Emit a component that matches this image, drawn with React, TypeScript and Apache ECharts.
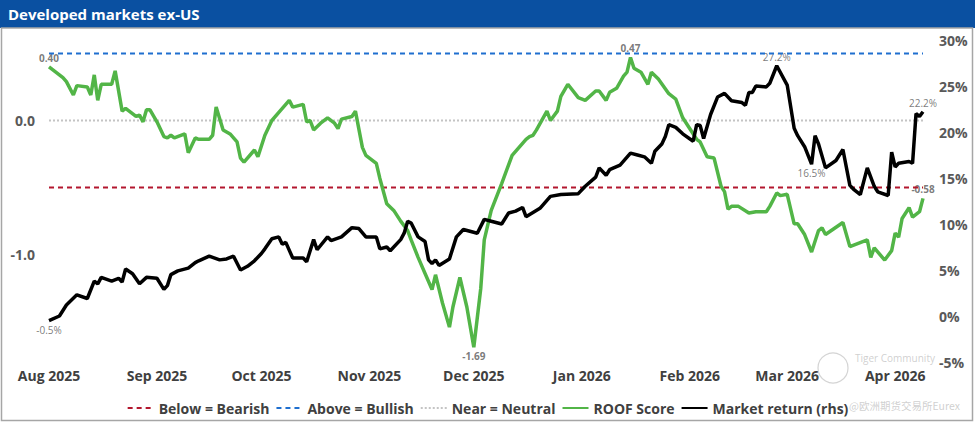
import React, { useEffect, useRef } from "react";
import * as echarts from "echarts";

// ---- Data ----
const START_DATE = "2025-08-01";
const END_DAY = 251; // days after START_DATE (2026-04-09)

const monthTicks = [
  "2025-08-01", "2025-09-01", "2025-10-01", "2025-11-01", "2025-12-01",
  "2026-01-01", "2026-02-01", "2026-03-01", "2026-04-01",
];
const monthNames = ["Jan", "Feb", "Mar", "Apr", "May", "Jun", "Jul", "Aug", "Sep", "Oct", "Nov", "Dec"];

// ROOF score (left axis): day offsets from START_DATE and values
const roofDays = [
  0, 4, 5, 7, 8, 11, 12, 13, 14, 15,
  18, 19, 21, 22, 25, 26, 27, 28, 29, 31,
  33, 34, 35, 36, 39, 40, 42, 43, 46, 47,
  48, 50, 52, 54, 55, 56, 59, 60, 62, 64,
  66, 68, 69, 70, 73, 74, 75, 76, 78, 80,
  82, 83, 84, 87, 88, 90, 91, 94, 95, 97,
  99, 101, 103, 104, 106, 108, 110, 111, 113, 115,
  116, 118, 120, 122, 124, 125, 127, 130, 133, 135,
  137, 138, 139, 140, 143, 144, 146, 147, 149, 152,
  154, 157, 158, 160, 161, 163, 165, 166, 167, 168,
  170, 172, 173, 175, 178, 180, 182, 184, 186, 187,
  189, 191, 193, 194, 195, 196, 198, 201, 203, 206,
  207, 209, 210, 212, 214, 215, 217, 219, 221, 222,
  223, 228, 230, 235, 236, 237, 240, 242, 243, 244,
  245, 247, 248, 250, 251,
];
const roofScore = [
  0.40, 0.32, 0.29, 0.19, 0.26, 0.25, 0.19, 0.34, 0.15, 0.27,
  0.27, 0.37, 0.07, 0.09, 0.03, 0.04, -0.01, 0.08, 0.08, -0.01,
  -0.12, -0.13, -0.11, -0.13, -0.10, -0.24, -0.13, -0.14, -0.14, -0.11,
  0.10, -0.07, -0.10, -0.16, -0.28, -0.31, -0.22, -0.27, -0.11, 0.00,
  0.06, 0.12, 0.15, 0.10, 0.12, -0.01, 0.00, -0.07, -0.02, 0.02,
  -0.02, -0.06, 0.01, 0.03, 0.07, -0.20, -0.26, -0.32, -0.43, -0.62,
  -0.67, -0.75, -0.82, -0.89, -1.02, -1.14, -1.26, -1.15, -1.36, -1.54,
  -1.39, -1.17, -1.39, -1.69, -1.25, -0.89, -0.67, -0.47, -0.26, -0.20,
  -0.14, -0.12, -0.11, -0.07, 0.07, 0.00, 0.07, 0.18, 0.27, 0.17,
  0.15, 0.22, 0.22, 0.15, 0.21, 0.24, 0.33, 0.36, 0.47, 0.39,
  0.36, 0.27, 0.36, 0.31, 0.20, 0.16, 0.02, -0.06, -0.14, -0.16,
  -0.27, -0.28, -0.49, -0.53, -0.66, -0.64, -0.64, -0.69, -0.68, -0.68,
  -0.64, -0.54, -0.56, -0.55, -0.77, -0.77, -0.85, -0.98, -0.82, -0.80,
  -0.85, -0.76, -0.94, -0.89, -1.02, -0.95, -1.04, -0.97, -0.84, -0.87,
  -0.73, -0.65, -0.72, -0.68, -0.58,
];

// Market return % (right axis): day offsets from START_DATE and values
const marketDays = [
  0, 3, 5, 8, 11, 13, 14, 15, 18, 20,
  21, 22, 24, 26, 28, 31, 33, 34, 35, 37,
  40, 42, 43, 46, 49, 51, 53, 55, 57, 59,
  61, 62, 64, 66, 67, 68, 70, 73, 74, 76,
  77, 80, 81, 84, 87, 89, 91, 94, 95, 97,
  98, 101, 102, 103, 104, 106, 108, 109, 110, 111,
  112, 115, 117, 119, 123, 125, 127, 130, 132, 134,
  136, 137, 141, 144, 147, 152, 154, 157, 158, 160,
  161, 164, 167, 169, 171, 173, 174, 176, 177, 178,
  180, 182, 185, 186, 187, 188, 190, 192, 194, 196,
  199, 200, 201, 202, 203, 206, 207, 209, 212, 214,
  215, 217, 219, 220, 221, 223, 226, 228, 230, 231,
  233, 235, 237, 238, 241, 242, 243, 244, 247, 248,
  249, 250, 251,
];
const marketReturn = [
  -0.5, 0.0, 1.2, 2.3, 1.9, 3.8, 3.5, 4.2, 3.8, 4.1,
  3.7, 5.1, 4.6, 3.5, 4.2, 4.1, 2.9, 3.3, 4.5, 4.9,
  5.2, 5.8, 6.0, 6.5, 6.1, 6.2, 6.5, 5.0, 5.4, 6.0,
  6.8, 7.3, 8.4, 8.6, 7.8, 8.0, 6.3, 6.3, 5.9, 8.3,
  7.2, 8.6, 8.2, 8.6, 9.6, 9.5, 8.6, 8.6, 7.3, 7.5,
  7.1, 8.3, 9.0, 10.3, 10.1, 8.6, 8.1, 6.1, 5.7, 6.1,
  5.5, 6.2, 8.6, 9.4, 9.0, 10.5, 10.3, 10.0, 11.2, 11.4,
  11.8, 10.8, 11.7, 13.0, 13.2, 13.3, 14.1, 15.1, 16.1, 15.3,
  15.9, 16.4, 17.7, 17.5, 17.3, 16.6, 17.9, 18.7, 19.5, 20.8,
  20.5, 19.8, 19.0, 20.8, 20.7, 19.3, 21.9, 23.8, 24.2, 23.4,
  23.2, 22.9, 24.3, 24.3, 25.0, 24.9, 25.3, 27.2, 25.1, 20.4,
  19.6, 18.4, 16.5, 19.6, 18.7, 16.1, 16.9, 18.1, 14.2, 13.8,
  13.2, 16.1, 14.1, 13.5, 13.1, 17.8, 16.2, 16.6, 16.8, 16.6,
  22.0, 21.7, 22.2,
];

// Threshold reference lines on the ROOF score axis
const bearishLevel = -0.5;
const bullishLevel = 0.5;
const neutralLevel = 0;

// Annotated points (day offset -> label position)
const roofLabelDays = [0, 122, 167, 251];
const roofLabelPos = ["top", "bottom", "top", "top"];
const marketLabelDays = [0, 209, 219, 251];
const marketLabelPos = ["bottom", "top", "bottom", "top"];

// ---- helpers ----
const DAY_MS = 86400000;
const START_MS = Date.parse(START_DATE + "T00:00:00Z");
const monthOffsets = monthTicks.map((m) => Math.round((Date.parse(m + "T00:00:00Z") - START_MS) / DAY_MS));

const FONT = "'Open Sans', 'Noto Sans', sans-serif";
const GREEN = "#52B547";
const BLACK = "#000000";
const RED = "#B3172E";
const BLUE = "#1F6FCF";
const GREY = "#C4C4C4";
const TEXT = "#404040";
const AXIS_TEXT = "#595959";

export default function App() {
  const ref = useRef<HTMLDivElement>(null);

  useEffect(() => {
    if (!ref.current) return;
    const chart = echarts.init(ref.current, null, { renderer: "svg" });

    const roofData = roofDays.map((d, i) => [d, roofScore[i]]);
    const marketData = marketDays.map((d, i) => [d, marketReturn[i]]);

    const roofLabels = roofLabelDays.map((d, i) => ({
      value: [d, roofScore[roofDays.indexOf(d)]],
      label: { position: roofLabelPos[i] },
    }));
    const marketLabels = marketLabelDays.map((d, i) => ({
      value: [d, marketReturn[marketDays.indexOf(d)]],
      label: { position: marketLabelPos[i] },
    }));

    const levelLine = (level: number) => [
      [0, level],
      [END_DAY, level],
    ];

    const option: any = {
      animation: false,
      backgroundColor: "#ffffff",
      textStyle: { fontFamily: FONT },
      grid: { left: 49, right: 52, top: 40, bottom: 62, containLabel: false },
      legend: {
        top: 396,
        left: "center",
        itemWidth: 26,
        itemHeight: 14,
        itemGap: 6,
        itemStyle: { opacity: 0, color: "rgba(0,0,0,0)", borderWidth: 0 },
        data: ["Below = Bearish", "Above = Bullish", "Near = Neutral", "ROOF Score", "Market return (rhs)"],
        textStyle: { fontFamily: FONT, fontSize: 14, fontWeight: "bold", color: TEXT },
        selectedMode: false,
      },
      xAxis: {
        type: "value",
        min: 0,
        max: END_DAY,
        interval: 1,
        axisLine: { show: false },
        axisTick: { show: false },
        splitLine: { show: false },
        axisLabel: {
          formatter: (v: number) => {
            const k = monthOffsets.indexOf(Math.round(v));
            if (k < 0 || Math.abs(v - Math.round(v)) > 1e-6) return "";
            const dt = new Date(Date.parse(monthTicks[k] + "T00:00:00Z"));
            return monthNames[dt.getUTCMonth()] + " " + dt.getUTCFullYear();
          },
          fontFamily: FONT,
          fontSize: 14,
          fontWeight: "bold",
          color: TEXT,
          margin: 6,
          hideOverlap: false,
          showMinLabel: true,
          showMaxLabel: true,
        },
      },
      yAxis: [
        {
          type: "value",
          position: "left",
          min: -1.8,
          max: 0.6,
          interval: 0.2,
          axisLine: { show: false },
          axisTick: { show: false },
          splitLine: { show: false },
          axisLabel: {
            formatter: (v: number) => (Math.abs(v) < 1e-6 || Math.abs(v + 1) < 1e-6 ? v.toFixed(1) : ""),
            fontFamily: FONT,
            fontSize: 14,
            fontWeight: "bold",
            color: AXIS_TEXT,
            margin: 14,
          },
        },
        {
          type: "value",
          position: "right",
          min: -5,
          max: 30,
          interval: 5,
          axisLine: { show: false },
          axisTick: { show: false },
          splitLine: { show: false },
          axisLabel: {
            formatter: "{value}%",
            fontFamily: FONT,
            fontSize: 14,
            fontWeight: "bold",
            color: AXIS_TEXT,
            margin: 16,
          },
        },
      ],
      series: [
        {
          name: "Below = Bearish",
          type: "line",
          yAxisIndex: 0,
          data: levelLine(bearishLevel),
          symbol: "none",
          silent: true,
          lineStyle: { color: RED, width: 2, type: [5, 4] },
          itemStyle: { color: RED },
        },
        {
          name: "Above = Bullish",
          type: "line",
          yAxisIndex: 0,
          data: levelLine(bullishLevel),
          symbol: "none",
          silent: true,
          lineStyle: { color: BLUE, width: 2, type: [5, 4] },
          itemStyle: { color: BLUE },
        },
        {
          name: "Near = Neutral",
          type: "line",
          yAxisIndex: 0,
          data: levelLine(neutralLevel),
          symbol: "none",
          silent: true,
          lineStyle: { color: GREY, width: 2, type: [2, 2] },
          itemStyle: { color: GREY },
        },
        {
          name: "ROOF Score",
          type: "line",
          yAxisIndex: 0,
          data: roofData,
          symbol: "none",
          lineStyle: { color: GREEN, width: 3.5 },
          itemStyle: { color: GREEN },
        },
        {
          name: "Market return (rhs)",
          type: "line",
          yAxisIndex: 1,
          data: marketData,
          symbol: "none",
          lineStyle: { color: BLACK, width: 3.5 },
          itemStyle: { color: BLACK },
        },
        {
          name: "roofLabels",
          type: "scatter",
          yAxisIndex: 0,
          data: roofLabels,
          symbolSize: 0,
          silent: true,
          label: {
            show: true,
            distance: 4,
            formatter: (p: any) => p.value[1].toFixed(2),
            fontFamily: FONT,
            fontSize: 10,
            fontWeight: "bold",
            color: AXIS_TEXT,
          },
        },
        {
          name: "marketLabels",
          type: "scatter",
          yAxisIndex: 1,
          data: marketLabels,
          symbolSize: 0,
          silent: true,
          label: {
            show: true,
            distance: 4,
            formatter: (p: any) => p.value[1].toFixed(1) + "%",
            fontFamily: FONT,
            fontSize: 10,
            color: AXIS_TEXT,
          },
        },
      ],
      graphic: [
        {
          type: "rect",
          shape: { x: 0, y: 0, width: 975, height: 28 },
          style: { fill: "#0A50A1" },
          z: 10,
        },
        {
          type: "text",
          x: 8,
          y: 14,
          style: {
            text: "Developed markets ex-US",
            fill: "#ffffff",
            font: "bold 15px " + FONT,
            verticalAlign: "middle",
          },
          z: 11,
        },
        {
          type: "rect",
          shape: { x: 1.5, y: 28, width: 971, height: 392.5 },
          style: { fill: "none", stroke: "#A6A6A6", lineWidth: 1.5 },
          z: 10,
        },
        {
          type: "circle",
          shape: { cx: 833, cy: 368, r: 15 },
          style: { fill: "none", stroke: "rgba(170,170,170,0.5)", lineWidth: 1.2 },
          z: 12,
        },
        {
          type: "text",
          x: 855,
          y: 358,
          style: {
            text: "Tiger Community",
            fill: "rgba(160,160,160,0.5)",
            font: "10px " + FONT,
            verticalAlign: "middle",
          },
          z: 12,
        },
        {
          type: "text",
          x: 849,
          y: 405,
          style: {
            text: "@欧洲期货交易所Eurex",
            fill: "rgba(175,175,175,0.6)",
            font: "10.5px 'Noto Sans CJK SC', sans-serif",
            verticalAlign: "middle",
          },
          z: 12,
        },
      ],
    };

    chart.setOption(option);
    return () => {
      chart.dispose();
    };
  }, []);

  return (
    <div
      ref={ref}
      style={{ position: "fixed", left: 0, top: 0, width: 975, height: 424, background: "#fff" }}
    />
  );
}
